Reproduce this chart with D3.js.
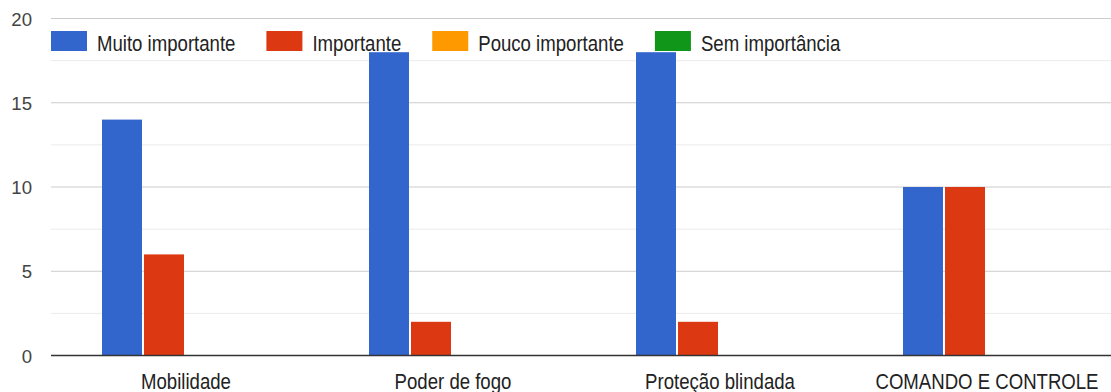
<!DOCTYPE html>
<html>
<head>
<meta charset="utf-8">
<script src="https://cdn.jsdelivr.net/npm/d3@7"></script>
<style>
  html, body { margin: 0; padding: 0; background: #fff; }
  svg { display: block; font-family: "Liberation Sans", Arial, sans-serif; }
</style>
</head>
<body>
<svg id="chart" width="1111" height="392"></svg>
<script>
// Categories and answer counts per importance level
const categories = ["Mobilidade", "Poder de fogo", "Proteção blindada", "COMANDO E CONTROLE"];
const seriesNames = ["Muito importante", "Importante", "Pouco importante", "Sem importância"];
const muitoImportante = [14, 18, 18, 10];
const importante = [6, 2, 2, 10];
const poucoImportante = [0, 0, 0, 0];
const semImportancia = [0, 0, 0, 0];
const yTicks = [0, 5, 10, 15, 20];
const yMinorTicks = [2.5, 7.5, 12.5, 17.5];
const colors = ["#3366cc", "#dc3912", "#ff9900", "#109618"];

const seriesValues = [muitoImportante, importante, poucoImportante, semImportancia];

const svg = d3.select("#chart");
const fontSize = 18.6;
const textStretch = 1.16; // labels are drawn slightly tall

const x0 = d3.scaleBand().domain(categories).range([52.5, 1120.5]).padding(0);
const groupWidth = 168;
const x1 = d3.scaleBand().domain(seriesNames).range([0, groupWidth]).padding(0);
const y = d3.scaleLinear().domain([0, 20]).range([355.5, 18.5]);

const plotLeft = 51;
const plotRight = 1120;

// Minor gridlines
svg.append("g").selectAll("line").data(yMinorTicks).join("line")
  .attr("x1", plotLeft).attr("x2", plotRight)
  .attr("y1", d => y(d)).attr("y2", d => y(d))
  .attr("stroke", "#ebebeb").attr("stroke-width", 1);

// Major gridlines
svg.append("g").selectAll("line").data(yTicks.filter(d => d !== 0)).join("line")
  .attr("x1", plotLeft).attr("x2", plotRight)
  .attr("y1", d => y(d)).attr("y2", d => y(d))
  .attr("stroke", "#cccccc").attr("stroke-width", 1);

// Y axis labels
const yAxis = d3.axisLeft(y).tickValues(yTicks).tickSize(0).tickPadding(0);
const yg = svg.append("g").attr("transform", "translate(32,0)").call(yAxis);
yg.select(".domain").remove();
yg.selectAll("text")
  .attr("font-size", fontSize)
  .attr("font-family", "Liberation Sans, Arial, sans-serif")
  .attr("fill", "#444")
  .attr("dy", "0.36em");

// Bars
const groups = svg.append("g").selectAll("g").data(categories).join("g")
  .attr("transform", d => `translate(${x0(d) + (x0.bandwidth() - groupWidth) / 2},0)`);

groups.selectAll("rect")
  .data((c, ci) => seriesNames.map((s, si) => ({ s, si, v: seriesValues[si][ci] })))
  .join("rect")
  .attr("x", d => x1(d.s))
  .attr("width", x1.bandwidth() - 2)
  .attr("y", d => y(d.v))
  .attr("height", d => y(0) - y(d.v))
  .attr("fill", d => colors[d.si]);

// Baseline
svg.append("line")
  .attr("x1", plotLeft).attr("x2", plotRight)
  .attr("y1", y(0)).attr("y2", y(0))
  .attr("stroke", "#333").attr("stroke-width", 1.5);

// X axis labels
const xAxis = d3.axisBottom(x0).tickSize(0).tickPadding(0);
const xg = svg.append("g").attr("transform", `translate(0,${y(0)})`).call(xAxis);
xg.select(".domain").remove();
xg.selectAll("text")
  .attr("font-size", fontSize)
  .attr("font-family", "Liberation Sans, Arial, sans-serif")
  .attr("fill", "#222")
  .attr("dy", null)
  .attr("y", 0)
  .attr("transform", `translate(0,33) scale(1,${textStretch})`);

// Legend
const legend = svg.append("g").attr("transform", "translate(51,41)");
let lx = 0;
seriesNames.forEach((name, i) => {
  const item = legend.append("g").attr("transform", `translate(${lx},0)`);
  item.append("rect")
    .attr("x", 0).attr("y", -10).attr("width", 36).attr("height", 20)
    .attr("fill", colors[i]);
  const t = item.append("text")
    .attr("x", 0).attr("y", 0)
    .attr("transform", `translate(46,9.6) scale(1,${textStretch})`)
    .attr("font-size", fontSize)
    .attr("fill", "#222")
    .text(name);
  lx += 46 + t.node().getComputedTextLength() + 31;
});
</script>
</body>
</html>
